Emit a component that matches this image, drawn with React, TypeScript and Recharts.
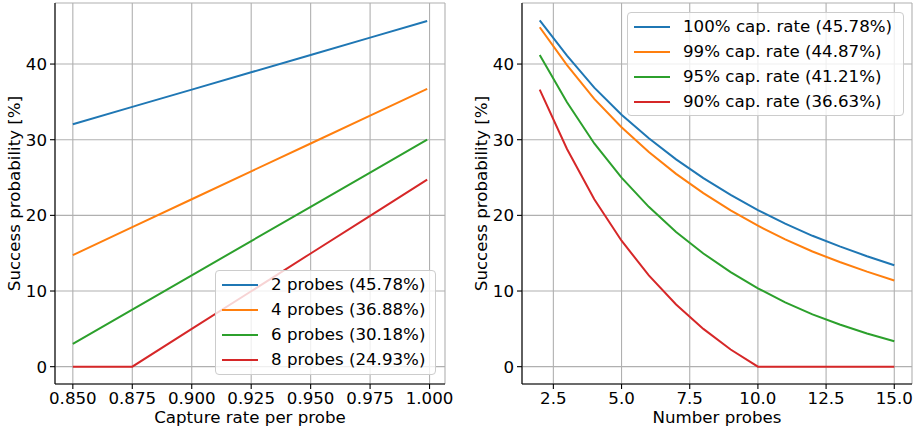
import React from "react";
import {
	CartesianGrid,
	Label,
	Legend,
	Line,
	LineChart,
	XAxis,
	YAxis
} from "recharts";

// left panel: success vs capture rate
const captureRates = [0.85, 0.875, 0.9, 0.925, 0.95, 0.975, 0.999];
const probes2 = [32.05, 34.34, 36.62, 38.91, 41.2, 43.49, 45.69];
const probes4 = [14.75, 18.44, 22.13, 25.82, 29.5, 33.19, 36.73];
const probes6 = [3.02, 7.55, 12.07, 16.6, 21.13, 25.65, 30.0];
const probes8 = [0, 0, 4.99, 9.97, 14.96, 19.94, 24.73];
const leftNames = ["2 probes (45.78%)", "4 probes (36.88%)", "6 probes (30.18%)", "8 probes (24.93%)"];

// right panel: success vs number of probes
const probeCounts = [2, 3, 4, 5, 6, 7, 8, 9, 10, 11, 12, 13, 14, 15];
const cap100 = [45.78, 41.1, 36.88, 33.3, 30.18, 27.4, 24.93, 22.7, 20.7, 18.9, 17.3, 15.9, 14.6, 13.4];
const cap99 = [44.87, 39.87, 35.4, 31.64, 28.37, 25.48, 22.94, 20.66, 18.63, 16.82, 15.22, 13.83, 12.56, 11.39];
const cap95 = [41.21, 34.94, 29.5, 24.98, 21.13, 17.81, 14.96, 12.49, 10.35, 8.51, 6.92, 5.57, 4.38, 3.35];
const cap90 = [36.63, 28.77, 22.13, 16.65, 12.07, 8.22, 4.99, 2.27, 0, 0, 0, 0, 0, 0];
const rightNames = ["100% cap. rate (45.78%)", "99% cap. rate (44.87%)", "95% cap. rate (41.21%)", "90% cap. rate (36.63%)"];

const leftTicks = [0.85, 0.875, 0.9, 0.925, 0.95, 0.975, 1.0];
const rightTicks = [2.5, 5, 7.5, 10, 12.5, 15];
const yTicks = [0, 10, 20, 30, 40];

const leftData = captureRates.map((x, i) => ({
	x,
	p2: probes2[i],
	p4: probes4[i],
	p6: probes6[i],
	p8: probes8[i]
}));

const rightData = probeCounts.map((x, i) => ({
	x,
	c100: cap100[i],
	c99: cap99[i],
	c95: cap95[i],
	c90: cap90[i]
}));

const COLORS = ["#1f77b4", "#ff7f0e", "#2ca02c", "#d62728"];
const FS = 16.67;
const tickStyle = { fill: "#000", fontSize: FS };
const axisStroke = { stroke: "#000", strokeWidth: 1.1 };

const YLabel = (props: any) => {
	const vb = props.viewBox || {};
	const cy = (vb.y ?? 3) + (vb.height ?? 381) / 2;
	const bx = props.bx;
	return (
		<text
			x={bx}
			y={cy}
			transform={`rotate(-90 ${bx} ${cy})`}
			textAnchor="middle"
			fontSize={FS}
			fill="#000"
		>
			Success probability [%]
		</text>
	);
};

const XLabel = (props: any) => {
	const vb = props.viewBox || {};
	const cx = (vb.x ?? 55) + (vb.width ?? 390) / 2;
	const y = (vb.y ?? 384) + 39;
	return (
		<text x={cx} y={y} textAnchor="middle" fontSize={FS} fill="#000">
			{props.text}
		</text>
	);
};

const LegendBox = ({ payload, order }: any) => {
	const items = [...(payload || [])].sort(
		(a: any, b: any) => order.indexOf(a.value) - order.indexOf(b.value)
	);
	return (
		<div
			style={{
				background: "rgba(255,255,255,0.8)",
				border: "1px solid #cccccc",
				borderRadius: 4,
				padding: "1px 6px",
				boxSizing: "border-box",
				width: "100%",
				height: "100%",
				fontFamily: "DejaVu Sans"
			}}
		>
			{items.map((e: any) => (
				<div key={e.value} style={{ display: "flex", alignItems: "center", height: 25 }}>
					<span style={{ display: "inline-block", width: 36, height: 2, background: e.color, marginRight: 13 }} />
					<span style={{ fontSize: FS, color: "#000", whiteSpace: "nowrap" }}>{e.value}</span>
				</div>
			))}
		</div>
	);
};

const yDomain: [number, number] = [-2.29, 48.07];

export default function App() {
	const leftX: [number, number] = [0.8425, 1.0065];
	const rightX: [number, number] = [1.35, 15.65];

	return (
		<div
			style={{
				position: "absolute",
				left: 0,
				top: 0,
				width: 921,
				height: 433,
				background: "#fff",
				fontFamily: "DejaVu Sans"
			}}
		>
			<div style={{ position: "absolute", left: 0, top: 0 }}>
				<LineChart width={460} height={433} data={leftData} margin={{ top: 3, right: 15, bottom: 0, left: 0 }}>
					<CartesianGrid stroke="#b0b0b0" strokeWidth={1.1} />
					<XAxis
						dataKey="x"
						type="number"
						domain={leftX}
						ticks={leftTicks}
						allowDataOverflow
						height={49}
						tick={tickStyle}
						tickSize={5}
						tickMargin={3}
						tickLine={axisStroke}
						axisLine={axisStroke}
						tickFormatter={(v: number) => v.toFixed(3)}
						label={<Label content={(p: any) => <XLabel {...p} text="Capture rate per probe" />} />}
					/>
					<XAxis xAxisId="top" orientation="top" type="number" domain={leftX} height={0} tick={false} tickLine={false} axisLine={axisStroke} />
					<YAxis
						type="number"
						domain={yDomain}
						ticks={yTicks}
						allowDataOverflow
						width={55}
						tick={tickStyle}
						tickSize={5}
						tickMargin={3}
						tickLine={axisStroke}
						axisLine={axisStroke}
						label={<Label content={(p: any) => <YLabel {...p} bx={19.5} />} />}
					/>
					<YAxis yAxisId="right" orientation="right" type="number" domain={yDomain} width={0} tick={false} tickLine={false} axisLine={axisStroke} />
					<Line dataKey="p2" name={leftNames[0]} stroke={COLORS[0]} strokeWidth={2} dot={false} type="linear" isAnimationActive={false} />
					<Line dataKey="p4" name={leftNames[1]} stroke={COLORS[1]} strokeWidth={2} dot={false} type="linear" isAnimationActive={false} />
					<Line dataKey="p6" name={leftNames[2]} stroke={COLORS[2]} strokeWidth={2} dot={false} type="linear" isAnimationActive={false} />
					<Line dataKey="p8" name={leftNames[3]} stroke={COLORS[3]} strokeWidth={2} dot={false} type="linear" isAnimationActive={false} />
					<Legend
						layout="vertical"
						align="center"
						verticalAlign="middle"
						wrapperStyle={{ left: 215, top: 270, width: 221, height: 105 }}
						content={<LegendBox order={leftNames} />}
					/>
				</LineChart>
			</div>
			<div style={{ position: "absolute", left: 460, top: 0 }}>
				<LineChart width={461} height={433} data={rightData} margin={{ top: 3, right: 9, bottom: 0, left: 0 }}>
					<CartesianGrid stroke="#b0b0b0" strokeWidth={1.1} />
					<XAxis
						dataKey="x"
						type="number"
						domain={rightX}
						ticks={rightTicks}
						allowDataOverflow
						height={49}
						tick={tickStyle}
						tickSize={5}
						tickMargin={3}
						tickLine={axisStroke}
						axisLine={axisStroke}
						tickFormatter={(v: number) => v.toFixed(1)}
						label={<Label content={(p: any) => <XLabel {...p} text="Number probes" />} />}
					/>
					<XAxis xAxisId="top" orientation="top" type="number" domain={rightX} height={0} tick={false} tickLine={false} axisLine={axisStroke} />
					<YAxis
						type="number"
						domain={yDomain}
						ticks={yTicks}
						allowDataOverflow
						width={62}
						tick={tickStyle}
						tickSize={5}
						tickMargin={3}
						tickLine={axisStroke}
						axisLine={axisStroke}
						label={<Label content={(p: any) => <YLabel {...p} bx={26.5} />} />}
					/>
					<YAxis yAxisId="right" orientation="right" type="number" domain={yDomain} width={0} tick={false} tickLine={false} axisLine={axisStroke} />
					<Line dataKey="c100" name={rightNames[0]} stroke={COLORS[0]} strokeWidth={2} dot={false} type="linear" isAnimationActive={false} />
					<Line dataKey="c99" name={rightNames[1]} stroke={COLORS[1]} strokeWidth={2} dot={false} type="linear" isAnimationActive={false} />
					<Line dataKey="c95" name={rightNames[2]} stroke={COLORS[2]} strokeWidth={2} dot={false} type="linear" isAnimationActive={false} />
					<Line dataKey="c90" name={rightNames[3]} stroke={COLORS[3]} strokeWidth={2} dot={false} type="linear" isAnimationActive={false} />
					<Legend
						layout="vertical"
						align="center"
						verticalAlign="middle"
						wrapperStyle={{ left: 167, top: 12, width: 277, height: 104 }}
						content={<LegendBox order={rightNames} />}
					/>
				</LineChart>
			</div>
		</div>
	);
}
